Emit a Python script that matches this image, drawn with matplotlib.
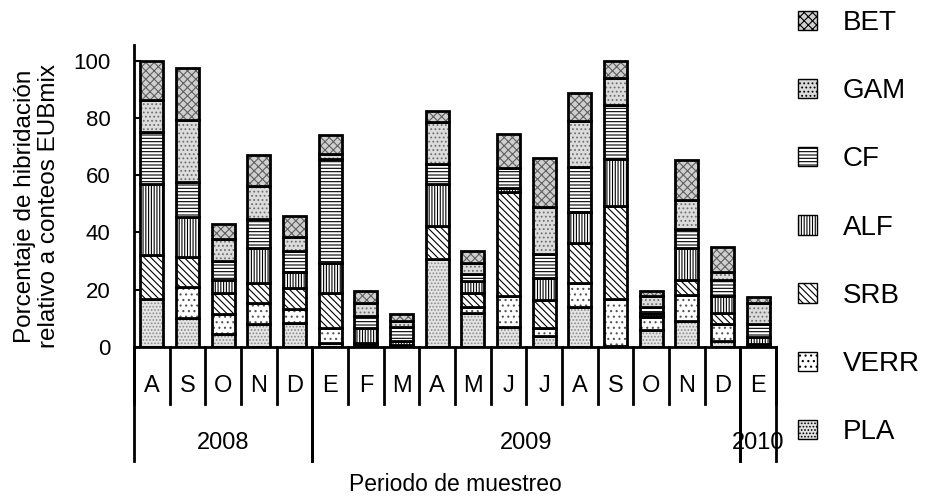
import matplotlib
matplotlib.use("Agg")
import matplotlib.pyplot as plt
import numpy as np
from matplotlib.patches import Patch

plt.rcParams["font.family"] = ["Liberation Sans", "DejaVu Sans"]
plt.rcParams["hatch.linewidth"] = 0.8

months = ["A", "S", "O", "N", "D", "E", "F", "M", "A", "M", "J", "J", "A", "S", "O", "N", "D", "E"]
years = ["2008", "2009", "2010"]
year_spans = [(0, 4), (5, 16), (17, 17)]

series_names = ["PLA", "VERR", "SRB", "ALF", "CF", "GAM", "BET"]
pla = [16.7, 10.3, 4.4, 7.9, 8.5, 1.5, 0.5, 0.3, 30.7, 12.0, 7.1, 3.9, 14.0, 0.5, 5.8, 9.1, 2.1, 0.3]
verr = [0.0, 10.5, 7.0, 7.6, 4.9, 5.0, 0.5, 0.3, 0.0, 1.8, 10.8, 2.6, 8.3, 16.2, 4.7, 9.1, 5.8, 0.3]
srb = [15.4, 10.5, 7.6, 6.7, 7.2, 12.3, 0.5, 0.0, 11.5, 5.0, 36.2, 9.9, 13.9, 32.5, 0.5, 5.2, 4.1, 0.3]
alf = [24.7, 14.0, 4.3, 12.4, 5.5, 10.4, 5.0, 1.5, 14.8, 4.3, 1.5, 7.7, 10.9, 16.6, 1.0, 11.2, 5.9, 2.6]
cf = [18.3, 12.3, 6.7, 10.1, 7.5, 36.6, 4.4, 5.0, 7.0, 2.4, 6.9, 8.4, 15.8, 18.7, 1.8, 6.6, 5.5, 4.4]
gam = [11.3, 21.6, 7.6, 11.7, 4.7, 1.7, 4.3, 2.0, 14.6, 3.7, 0.0, 16.3, 16.0, 9.3, 4.0, 10.2, 2.7, 7.6]
bet = [13.6, 18.1, 5.5, 10.5, 7.3, 6.4, 4.4, 2.3, 3.8, 4.2, 12.0, 17.3, 9.9, 6.2, 1.8, 13.8, 8.7, 1.8]
values = [pla, verr, srb, alf, cf, gam, bet]

# face colour, hatch, hatch colour for each series
styles = [
    ("#e4e4e4", ".....", "#8a8a8a"),
    ("white", "...", "#555555"),
    ("white", "\\\\\\\\\\", "black"),
    ("white", "||||||", "black"),
    ("white", "-----", "black"),
    ("#dcdcdc", "....", "#707070"),
    ("#cfcfcf", "xxxx", "#606060"),
]

fig = plt.figure(figsize=(9.34, 4.96), dpi=100)
ax = fig.add_axes([134 / 934, 1 - 347 / 496, 642 / 934, 302 / 496])

x = np.arange(len(months))
width = 0.65
bottom = np.zeros(len(months))
for vals, (fc, hatch, hc) in zip(values, styles):
    vals = np.array(vals)
    ax.bar(x, vals, width, bottom=bottom, color=fc, hatch=hatch, edgecolor=hc, linewidth=0)
    ax.bar(x, vals, width, bottom=bottom, fill=False, edgecolor="black", linewidth=2)
    bottom += vals

ax.set_xlim(-0.5, len(months) - 0.5)
ax.set_ylim(0, 105.5)
ax.set_yticks(range(0, 101, 20))
ax.tick_params(axis="y", direction="in", length=5, width=1.5, labelsize=16, pad=17)
ax.set_xticks([])
for side in ["top", "right"]:
    ax.spines[side].set_visible(False)
for side in ["left", "bottom"]:
    ax.spines[side].set_linewidth(2)

# two-level category axis
trans = ax.get_xaxis_transform()
for i in range(len(months) + 1):
    ax.plot([i - 0.5, i - 0.5], [0, -0.189], color="black", lw=2, transform=trans, clip_on=False)
for i, m in enumerate(months):
    ax.text(i, -0.129, m, transform=trans, ha="center", va="center", fontsize=17)
for (a, b), yr in zip(year_spans, years):
    for edge in (a - 0.5, b + 0.5):
        ax.plot([edge, edge], [0, -0.377], color="black", lw=2, transform=trans, clip_on=False)
    ax.text((a + b) / 2, -0.318, yr, transform=trans, ha="center", va="center", fontsize=17)

ax.text(0.5, -0.455, "Periodo de muestreo", transform=ax.transAxes, ha="center", va="center", fontsize=16.5)
fig.text(37 / 934, 1 - 206 / 496, "Porcentaje de hibridación\nrelativo a conteos EUBmix",
         rotation=90, ha="center", va="center", fontsize=17.5, linespacing=1.07)

handles = [Patch(facecolor=fc, hatch=h, edgecolor="black", linewidth=1) for fc, h, _ in styles]
fig.legend(handles[::-1], series_names[::-1], loc="upper left",
           bbox_to_anchor=(798 / 934, 1 - 10 / 496), frameon=False, fontsize=20,
           handlelength=0.7, handleheight=0.7, handletextpad=0.9, labelspacing=1.52,
           borderpad=0, borderaxespad=0)

fig.savefig("out.png", dpi=100)
